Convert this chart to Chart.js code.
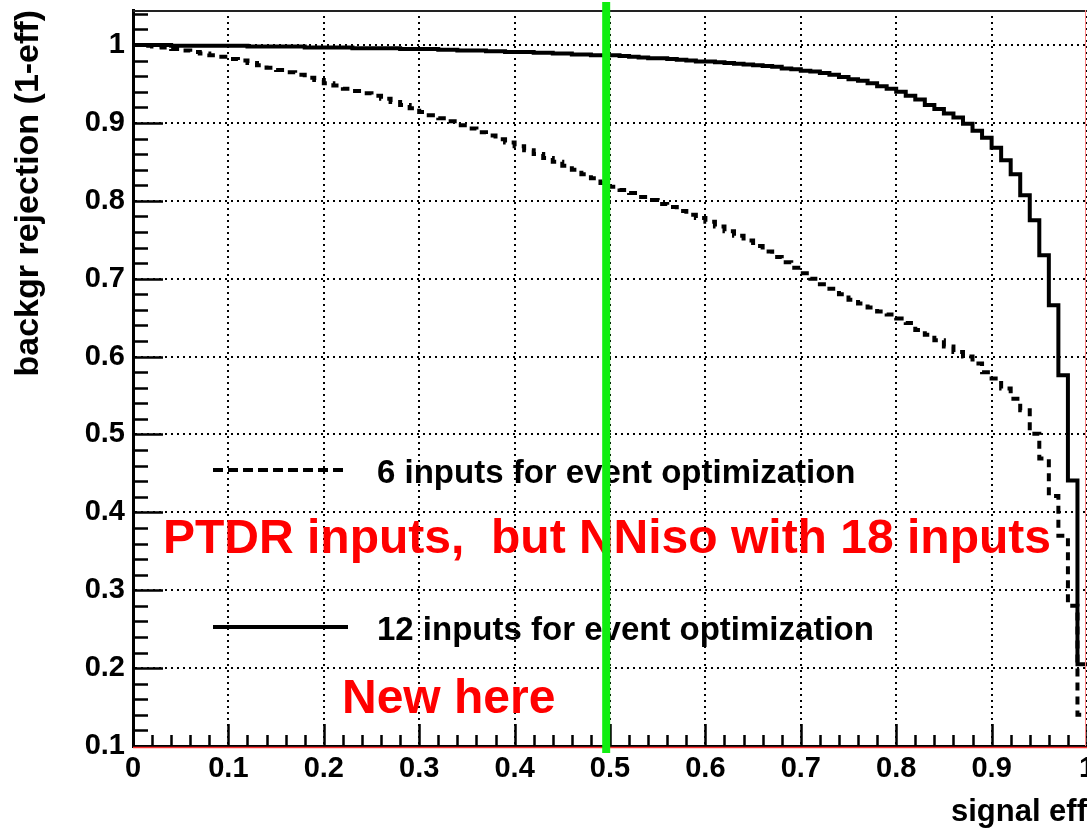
<!DOCTYPE html>
<html>
<head>
<meta charset="utf-8">
<script src="https://cdn.jsdelivr.net/npm/chart.js@4.4.1/dist/chart.umd.min.js"></script>
<style>
  html, body { margin: 0; padding: 0; background: #fff; overflow: hidden; }
  canvas { display: block; }
</style>
</head>
<body>
<canvas id="rocChart" width="1087" height="831"></canvas>
<script>
// low edge of each signal-efficiency bin (histogram, 100 bins)
const binEdges = [
  0.00, 0.01, 0.02, 0.03, 0.04, 0.05, 0.06, 0.07, 0.08, 0.09,
  0.10, 0.11, 0.12, 0.13, 0.14, 0.15, 0.16, 0.17, 0.18, 0.19,
  0.20, 0.21, 0.22, 0.23, 0.24, 0.25, 0.26, 0.27, 0.28, 0.29,
  0.30, 0.31, 0.32, 0.33, 0.34, 0.35, 0.36, 0.37, 0.38, 0.39,
  0.40, 0.41, 0.42, 0.43, 0.44, 0.45, 0.46, 0.47, 0.48, 0.49,
  0.50, 0.51, 0.52, 0.53, 0.54, 0.55, 0.56, 0.57, 0.58, 0.59,
  0.60, 0.61, 0.62, 0.63, 0.64, 0.65, 0.66, 0.67, 0.68, 0.69,
  0.70, 0.71, 0.72, 0.73, 0.74, 0.75, 0.76, 0.77, 0.78, 0.79,
  0.80, 0.81, 0.82, 0.83, 0.84, 0.85, 0.86, 0.87, 0.88, 0.89,
  0.90, 0.91, 0.92, 0.93, 0.94, 0.95, 0.96, 0.97, 0.98, 0.99
];
const lastEdge = 1.0;

// background rejection, 6 inputs (dashed)
const rej6 = [
  1.000, 0.999, 0.998, 0.997, 0.995, 0.993, 0.991, 0.989, 0.987, 0.985,
  0.982, 0.980, 0.977, 0.974, 0.971, 0.968, 0.965, 0.962, 0.958, 0.955,
  0.951, 0.948, 0.944, 0.941, 0.938, 0.935, 0.931, 0.927, 0.923, 0.919,
  0.914, 0.910, 0.906, 0.902, 0.897, 0.893, 0.888, 0.884, 0.879, 0.875,
  0.870, 0.865, 0.860, 0.855, 0.850, 0.845, 0.840, 0.834, 0.829, 0.823,
  0.818, 0.814, 0.810, 0.805, 0.801, 0.796, 0.792, 0.787, 0.782, 0.778,
  0.773, 0.767, 0.761, 0.755, 0.749, 0.742, 0.735, 0.728, 0.721, 0.714,
  0.707, 0.700, 0.693, 0.687, 0.680, 0.673, 0.668, 0.663, 0.658, 0.654,
  0.649, 0.643, 0.634, 0.628, 0.621, 0.613, 0.606, 0.600, 0.591, 0.580,
  0.572, 0.559, 0.546, 0.531, 0.501, 0.469, 0.421, 0.370, 0.280, 0.140
];

// background rejection, 12 inputs (solid)
const rej12 = [
  1.000, 1.000, 1.000, 1.000, 0.999, 0.999, 0.999, 0.999, 0.999, 0.999,
  0.999, 0.999, 0.998, 0.998, 0.998, 0.998, 0.998, 0.998, 0.997, 0.997,
  0.997, 0.997, 0.997, 0.996, 0.996, 0.996, 0.996, 0.996, 0.995, 0.995,
  0.995, 0.995, 0.994, 0.994, 0.993, 0.993, 0.993, 0.992, 0.992, 0.991,
  0.991, 0.991, 0.990, 0.990, 0.989, 0.989, 0.988, 0.988, 0.987, 0.987,
  0.987, 0.986, 0.985, 0.984, 0.983, 0.983, 0.982, 0.981, 0.980, 0.979,
  0.979, 0.978, 0.977, 0.976, 0.975, 0.974, 0.973, 0.972, 0.970, 0.969,
  0.967, 0.966, 0.964, 0.962, 0.959, 0.956, 0.954, 0.951, 0.947, 0.944,
  0.940, 0.935, 0.930, 0.923, 0.918, 0.912, 0.907, 0.899, 0.890, 0.881,
  0.868, 0.852, 0.834, 0.807, 0.775, 0.730, 0.666, 0.576, 0.441, 0.205
];

const seriesLabels = ['6 inputs for event optimization', '12 inputs for event optimization'];

const xTicks = [0, 0.1, 0.2, 0.3, 0.4, 0.5, 0.6, 0.7, 0.8, 0.9, 1];
const xTickLabels = ['0', '0.1', '0.2', '0.3', '0.4', '0.5', '0.6', '0.7', '0.8', '0.9', '1'];
const yTicks = [0.1, 0.2, 0.3, 0.4, 0.5, 0.6, 0.7, 0.8, 0.9, 1];
const yTickLabels = ['0.1', '0.2', '0.3', '0.4', '0.5', '0.6', '0.7', '0.8', '0.9', '1'];

const cutEff = 0.496; // green marker line
const notes = ['PTDR inputs,  but NNiso with 18 inputs', 'New here'];

const FONT = '"Liberation Sans", Arial, sans-serif';
Chart.defaults.font.family = FONT;
Chart.defaults.font.weight = 'bold';
Chart.defaults.color = '#000';

function histPoints(values) {
  const pts = binEdges.map((x, i) => ({ x: x, y: values[i] }));
  pts.push({ x: lastEdge, y: values[values.length - 1] });
  return pts;
}

// ROOT-like frame: inner ticks, top line, red slide border
const rootFrame = {
  id: 'rootFrame',
  afterDatasetsDraw(chart) {
    const { ctx, chartArea: a, scales: { x, y } } = chart;
    ctx.save();
    ctx.strokeStyle = '#000';
    ctx.lineWidth = 2.5;
    ctx.beginPath();
    for (let i = 0; i <= 47; i++) {
      const v = 0.1 + i * 0.02;
      if (v > y.max) break;
      const py = Math.round(y.getPixelForValue(v)) + 0.5;
      const len = i % 5 === 0 ? 30 : 15;
      ctx.moveTo(a.left, py);
      ctx.lineTo(a.left + len, py);
    }
    for (let i = 0; i <= 50; i++) {
      const px = Math.round(x.getPixelForValue(i * 0.02)) + 0.5;
      const len = i % 5 === 0 ? 22 : 11;
      ctx.moveTo(px, a.bottom);
      ctx.lineTo(px, a.bottom - len);
    }
    ctx.stroke();

    // top frame line
    ctx.lineWidth = 2;
    ctx.strokeStyle = '#222';
    ctx.beginPath();
    ctx.moveTo(a.left, a.top + 1);
    ctx.lineTo(a.right, a.top + 1);
    ctx.stroke();

    // red border of the slide picture
    ctx.strokeStyle = '#ff3030';
    ctx.lineWidth = 1.5;
    ctx.beginPath();
    ctx.moveTo(a.left, a.bottom + 1.5);
    ctx.lineTo(a.right, a.bottom + 1.5);
    ctx.stroke();
    ctx.strokeStyle = '#ff8080';
    ctx.lineWidth = 1;
    ctx.beginPath();
    ctx.moveTo(a.right - 1.5, a.top);
    ctx.lineTo(a.right - 1.5, a.bottom);
    ctx.stroke();

    // legend (no box, like a ROOT TLegend)
    const rows = [{ ds: 0, lineY: 470, textY: 483 }, { ds: 1, lineY: 627, textY: 640 }];
    rows.forEach(r => {
      const ds = chart.data.datasets[r.ds];
      ctx.strokeStyle = ds.borderColor;
      ctx.lineWidth = ds.borderWidth;
      ctx.setLineDash(ds.borderDash ? [10, 5] : []);
      ctx.beginPath();
      ctx.moveTo(213, r.lineY);
      ctx.lineTo(348, r.lineY);
      ctx.stroke();
      ctx.setLineDash([]);
      ctx.fillStyle = '#000';
      ctx.font = 'bold 33px ' + FONT;
      ctx.textBaseline = 'alphabetic';
      ctx.textAlign = 'left';
      ctx.fillText(ds.label, 377, r.textY);
    });

    // red notes
    ctx.fillStyle = '#ff0000';
    ctx.font = 'bold 48px ' + FONT;
    ctx.fillText(notes[0], 163, 553);
    ctx.fillText(notes[1], 342, 713);
    ctx.restore();
  },
  afterDraw(chart) {
    const { ctx, chartArea: a, scales: { x } } = chart;
    const px = x.getPixelForValue(cutEff);
    ctx.save();
    ctx.strokeStyle = '#10ee10';
    ctx.lineWidth = 8;
    ctx.beginPath();
    ctx.moveTo(px, a.top - 8);
    ctx.lineTo(px, a.bottom + 7);
    ctx.stroke();
    ctx.restore();
  }
};

new Chart(document.getElementById('rocChart'), {
  type: 'line',
  data: {
    datasets: [
      {
        label: seriesLabels[0],
        data: histPoints(rej6),
        borderColor: '#000',
        borderWidth: 4,
        borderDash: [8, 6],
        stepped: true,
        pointRadius: 0,
        fill: false
      },
      {
        label: seriesLabels[1],
        data: histPoints(rej12),
        borderColor: '#000',
        borderWidth: 4,
        stepped: true,
        pointRadius: 0,
        fill: false
      }
    ]
  },
  options: {
    responsive: false,
    animation: false,
    events: [],
    layout: { padding: { top: 10, left: 0, right: 0, bottom: 0 } },
    plugins: {
      legend: { display: false },
      tooltip: { enabled: false }
    },
    scales: {
      x: {
        type: 'linear',
        min: 0,
        max: 1,
        afterBuildTicks: scale => { scale.ticks = xTicks.map(v => ({ value: v })); },
        afterFit: scale => {
          scale.height = 85;
          scale.paddingLeft = 0;
          scale.paddingRight = 0;
        },
        ticks: {
          autoSkip: false,
          maxRotation: 0,
          padding: 6,
          font: { size: 29, weight: 'bold' },
          callback: (value, index) => xTickLabels[index]
        },
        grid: { color: '#000', lineWidth: 2, drawTicks: false },
        border: { display: true, color: '#000', width: 3, dash: [2, 4] },
        title: {
          display: true,
          text: 'signal eff',
          align: 'end',
          padding: { top: 0, bottom: 0 },
          font: { size: 31, weight: 'bold' }
        }
      },
      y: {
        type: 'linear',
        min: 0.1,
        max: 1.045,
        afterBuildTicks: scale => { scale.ticks = yTicks.map(v => ({ value: v })); },
        afterFit: scale => {
          scale.width = 133;
          scale.paddingTop = 0;
          scale.paddingBottom = 0;
        },
        ticks: {
          padding: 8,
          font: { size: 29, weight: 'bold' },
          callback: (value, index) => yTickLabels[index]
        },
        grid: { color: '#000', lineWidth: 2, drawTicks: false },
        border: { display: true, color: '#000', width: 3, dash: [2, 4] },
        title: {
          display: true,
          text: 'backgr rejection (1-eff)',
          align: 'end',
          padding: { top: 8, bottom: 0 },
          font: { size: 34, weight: 'bold' }
        }
      }
    }
  },
  plugins: [rootFrame]
});
</script>
</body>
</html>
